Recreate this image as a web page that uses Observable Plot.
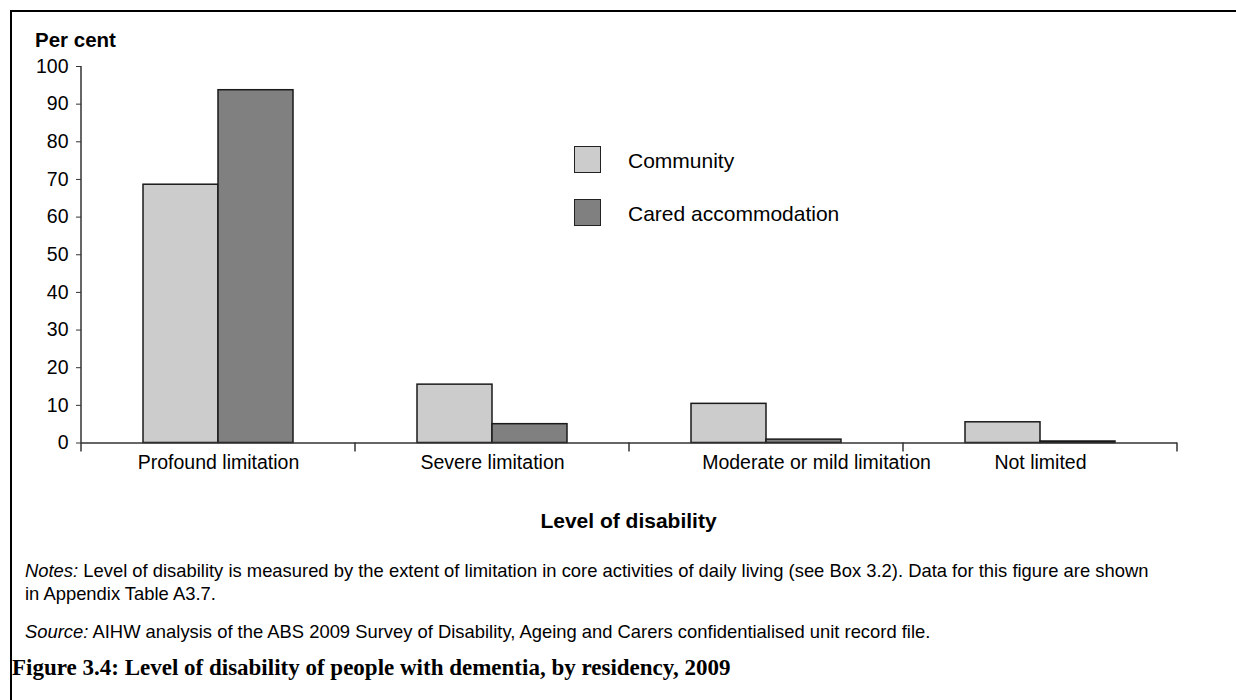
<!DOCTYPE html>
<html>
<head>
<meta charset="utf-8">
<script src="https://cdn.jsdelivr.net/npm/d3@7"></script>
<script src="https://cdn.jsdelivr.net/npm/@observablehq/plot@0.6"></script>
<style>
  html, body { margin: 0; padding: 0; background: #fff; overflow: hidden; }
  body { width: 1236px; height: 700px; position: relative; font-family: "Liberation Sans", Arial, sans-serif; color: #000; }
  #hline { position: absolute; left: 10px; top: 10px; width: 1226px; height: 2px; background: #000; }
  #vline { position: absolute; left: 10px; top: 10px; width: 2px; height: 690px; background: #000; }
  #chart { position: absolute; left: 0; top: 0; }
  .abs { position: absolute; white-space: nowrap; line-height: 1; }
  .sw { position: absolute; width: 25px; height: 25px; border: 1.5px solid #222; }
</style>
</head>
<body>
<div id="hline"></div>
<div id="vline"></div>
<div id="chart"></div>
<div class="abs" style="left:35px; top:29.6px; font-size:20.5px; font-weight:bold;">Per cent</div>
<div id="legend"></div>
<div class="abs" style="left:0; width:1257px; text-align:center; top:510px; font-size:21px; font-weight:bold;">Level of disability</div>
<div class="abs" style="left:25px; top:562px; font-size:18.4px;"><i>Notes:</i> Level of disability is measured by the extent of limitation in core activities of daily living (see Box 3.2). Data for this figure are shown</div>
<div class="abs" style="left:25px; top:585px; font-size:18.4px;">in Appendix Table A3.7.</div>
<div class="abs" style="left:25px; top:623px; font-size:18.4px;"><i>Source:</i> AIHW analysis of the ABS 2009 Survey of Disability, Ageing and Carers confidentialised unit record file.</div>
<div class="abs" style="left:12px; top:656px; font-size:23px; font-weight:bold; font-family:'Liberation Serif','DejaVu Serif',serif;">Figure 3.4: Level of disability of people with dementia, by residency, 2009</div>
<script>
const categories = ["Profound limitation", "Severe limitation", "Moderate or mild limitation", "Not limited"];
const series = ["Community", "Cared accommodation"];
const community = [68.6, 15.5, 10.4, 5.5];
const cared = [93.7, 5.0, 0.9, 0.4];
const colors = ["#cccccc", "#808080"];
const yTicks = [0, 10, 20, 30, 40, 50, 60, 70, 80, 90, 100];

const rows = [];
categories.forEach((c, i) => {
  rows.push({category: c, series: series[0], value: community[i]});
  rows.push({category: c, series: series[1], value: cared[i]});
});

const shifted = categories[2];

const plot = Plot.plot({
  width: 1236,
  height: 490,
  marginLeft: 79,
  marginRight: 58,
  marginTop: 66,
  marginBottom: 47.5,
  style: {fontFamily: "'Liberation Sans', Arial, sans-serif", fontSize: "19.5px", color: "#000", background: "transparent", overflow: "visible"},
  fx: {domain: categories, padding: 0, axis: null},
  x: {domain: series, paddingInner: 0, paddingOuter: 0.808, axis: null},
  y: {domain: [0, 100], axis: null},
  color: {domain: series, range: colors},
  marks: [
    Plot.barY(rows, {fx: "category", x: "series", y: "value", fill: "series", stroke: "#1a1a1a", strokeWidth: 1.5}),
    Plot.ruleY([0], {stroke: "#333", strokeWidth: 1.5}),
    Plot.axisY({ticks: yTicks, tickSize: 5, tickPadding: 8, label: null, stroke: "#333", fill: "#000"}),
    Plot.text(categories.filter(d => d !== shifted), {fx: d => d, text: d => d, frameAnchor: "bottom", dy: 25.5, fill: "#000"}),
    Plot.text([shifted], {fx: d => d, text: d => d, frameAnchor: "bottom", dy: 25.5, dx: 50, fill: "#000"})
  ]
});

document.getElementById("chart").appendChild(plot);

// axis line and band-boundary ticks from the plot's scales
const fx = plot.scale("fx");
const y = plot.scale("y");
const svg = d3.select(plot);
const y0 = y.apply(0);
const y100 = y.apply(100);
const xLeft = fx.apply(categories[0]);
const g = svg.append("g").attr("stroke", "#333").attr("stroke-width", 1.5);
g.append("line").attr("x1", xLeft).attr("x2", xLeft).attr("y1", y100).attr("y2", y0 + 9);
const bounds = categories.map(c => fx.apply(c)).concat([fx.apply(categories[categories.length - 1]) + fx.bandwidth]);
bounds.slice(1).forEach(b => {
  g.append("line").attr("x1", b).attr("x2", b).attr("y1", y0).attr("y2", y0 + 9);
});

// legend
const legend = document.getElementById("legend");
series.forEach((s, i) => {
  const top = 146 + i * 53;
  const sw = document.createElement("div");
  sw.className = "sw";
  sw.style.left = "574px";
  sw.style.top = top + "px";
  sw.style.background = colors[i];
  legend.appendChild(sw);
  const t = document.createElement("div");
  t.className = "abs";
  t.style.left = "628px";
  t.style.top = (top + 3.8) + "px";
  t.style.fontSize = "21px";
  t.textContent = s;
  legend.appendChild(t);
});
</script>
</body>
</html>
